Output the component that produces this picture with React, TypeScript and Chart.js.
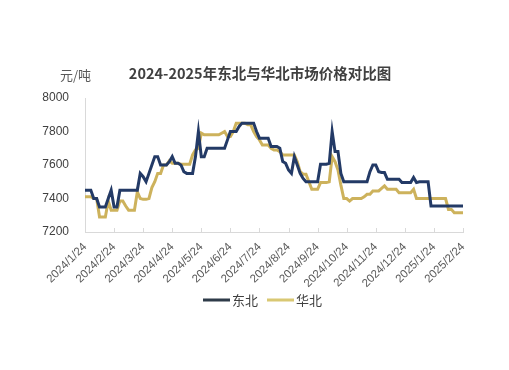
import React, { useEffect, useRef } from "react";
import Chart from "chart.js/auto";

const monthLabels = [
  "2024/1/24", "2024/2/24", "2024/3/24", "2024/4/24", "2024/5/24", "2024/6/24", "2024/7/24",
  "2024/8/24", "2024/9/24", "2024/10/24", "2024/11/24", "2024/12/24", "2025/1/24", "2025/2/24",
];
const pointsPerMonth = 10;

const dongbei = [
  7450, 7450, 7450, 7400, 7400, 7350, 7350, 7350, 7400, 7450,
  7350, 7350, 7450, 7450, 7450, 7450, 7450, 7450, 7450, 7550,
  7530, 7500, 7550, 7600, 7650, 7650, 7600, 7600, 7600, 7620,
  7650, 7610, 7610, 7600, 7560, 7550, 7550, 7550, 7650, 7800,
  7650, 7650, 7700, 7700, 7700, 7700, 7700, 7700, 7700, 7750,
  7800, 7800, 7800, 7830, 7850, 7850, 7850, 7850, 7850, 7800,
  7760, 7760, 7760, 7760, 7710, 7710, 7710, 7700, 7620, 7610,
  7570, 7550, 7650, 7600, 7550, 7520, 7500, 7500, 7500, 7500,
  7500, 7605, 7605, 7605, 7610, 7800, 7680, 7680, 7550, 7500,
  7500, 7500, 7500, 7500, 7500, 7500, 7500, 7500, 7560, 7600,
  7600, 7560, 7555, 7555, 7515, 7515, 7515, 7515, 7515, 7495,
  7495, 7495, 7495, 7525, 7495, 7500, 7500, 7500, 7500, 7355,
  7355, 7355, 7355, 7355, 7355, 7355, 7355, 7355, 7355, 7355,
  7355,
];

const huabei = [
  7410, 7410, 7410, 7400, 7400, 7290, 7290, 7290, 7385, 7330,
  7330, 7330, 7385, 7385, 7355, 7330, 7330, 7330, 7440, 7400,
  7395, 7395, 7400, 7465, 7500, 7550, 7550, 7600, 7600, 7625,
  7610, 7610, 7610, 7605, 7605, 7605, 7605, 7660, 7690, 7700,
  7790, 7780, 7780, 7780, 7780, 7780, 7780, 7790, 7800, 7770,
  7770, 7800, 7850, 7850, 7850, 7850, 7840, 7840, 7800, 7770,
  7750, 7720, 7720, 7720, 7700, 7690, 7690, 7680, 7660, 7660,
  7660, 7660, 7660, 7620, 7560, 7545, 7545, 7500, 7455, 7455,
  7455, 7495, 7495, 7495, 7500, 7650, 7620, 7570, 7480, 7400,
  7400, 7385, 7400, 7400, 7400, 7400, 7410, 7425, 7425, 7445,
  7445, 7445, 7460, 7475, 7455, 7455, 7455, 7455, 7435, 7435,
  7435, 7435, 7435, 7455, 7400, 7400, 7400, 7400, 7400, 7400,
  7400, 7400, 7400, 7400, 7400, 7335, 7335, 7315, 7315, 7315,
  7315,
];

const yTicks = [7200, 7400, 7600, 7800, 8000];
const seriesNames = ["东北", "华北"];
const lineColors = ["#233a66", "#cdb25c"];
const legendColors = ["#2e3b49", "#d9c873"];
const titleText = "2024-2025年东北与华北市场价格对比图";
const unitText = "元/吨";

export default function App() {
  const ref = useRef<HTMLCanvasElement>(null);
  useEffect(() => {
    const canvas = ref.current!;
    const decorPlugin = {
      id: "decor",
      afterDraw(chart: any) {
        const ctx = chart.ctx;
        const area = chart.chartArea;
        const xs = chart.scales.x;
        ctx.save();
        // inward tick marks on x axis
        ctx.strokeStyle = "#d9d9d9";
        ctx.lineWidth = 1;
        monthLabels.forEach((_, i) => {
          const px = Math.round(xs.getPixelForValue(i * pointsPerMonth)) + 0.5;
          ctx.beginPath();
          ctx.moveTo(px, area.bottom);
          ctx.lineTo(px, area.bottom - 4);
          ctx.stroke();
        });
        // title and unit
        ctx.fillStyle = "#404040";
        ctx.font = "bold 14.5px 'Noto Sans CJK SC', sans-serif";
        ctx.textAlign = "center";
        ctx.textBaseline = "middle";
        ctx.fillText(titleText, 260, 73);
        ctx.fillStyle = "#595959";
        ctx.font = "13px 'Noto Sans CJK SC', sans-serif";
        ctx.textAlign = "left";
        ctx.fillText(unitText, 60, 75);
        // legend
        const legendY = 300;
        const starts = [203, 267];
        seriesNames.forEach((name, k) => {
          ctx.fillStyle = legendColors[k];
          ctx.fillRect(starts[k], legendY - 1.5, 27, 3);
          ctx.fillStyle = "#404040";
          ctx.font = "13px 'Noto Sans CJK SC', sans-serif";
          ctx.textAlign = "left";
          ctx.textBaseline = "middle";
          ctx.fillText(name, starts[k] + 29, legendY);
        });
        ctx.restore();
      },
    };
    const chart = new Chart(canvas, {
      type: "line",
      data: {
        datasets: seriesNames.map((name, k) => ({
          label: name,
          data: (k === 0 ? dongbei : huabei).map((v, i) => ({ x: i, y: v })),
          borderColor: lineColors[k],
          backgroundColor: legendColors[k],
          borderWidth: 3,
          pointRadius: 0,
          tension: 0,
        })),
      },
      options: {
        animation: false,
        responsive: false,
        maintainAspectRatio: false,
        layout: { padding: { left: 0, right: 46, top: 98, bottom: 80 } },
        plugins: {
          title: { display: false },
          tooltip: { enabled: false },
          legend: { display: false },
        },
        scales: {
          x: {
            type: "linear",
            min: 0,
            max: (monthLabels.length - 1) * pointsPerMonth,
            afterFit: (s: any) => { s.height = 58; },
            afterBuildTicks: (s: any) => {
              s.ticks = monthLabels.map((_, i) => ({ value: i * pointsPerMonth }));
            },
            ticks: {
              autoSkip: false,
              maxRotation: 45,
              minRotation: 45,
              padding: 8,
              color: "#595959",
              font: { size: 11.5, family: "'Liberation Sans', sans-serif" },
              callback: (v: any) => monthLabels[Math.round(Number(v) / pointsPerMonth)],
            },
            grid: { drawOnChartArea: false, drawTicks: false, color: "#d9d9d9" },
            border: { color: "#d9d9d9" },
          },
          y: {
            min: 7200,
            max: 8000,
            afterFit: (s: any) => { s.width = 85; },
            afterBuildTicks: (s: any) => {
              s.ticks = yTicks.map((v) => ({ value: v }));
            },
            ticks: {
              color: "#404040",
              padding: 8,
              font: { size: 12, family: "'Liberation Sans', sans-serif" },
              callback: (v: any) => String(v),
            },
            grid: { display: false },
            border: { color: "#d9d9d9" },
          },
        },
      },
      plugins: [decorPlugin],
    } as any);
    return () => chart.destroy();
  }, []);
  return (
    <div style={{ position: "fixed", left: 0, top: 0, width: 509, height: 370, background: "#fff" }}>
      <canvas ref={ref} width={509} height={370} style={{ width: 509, height: 370 }} />
    </div>
  );
}
